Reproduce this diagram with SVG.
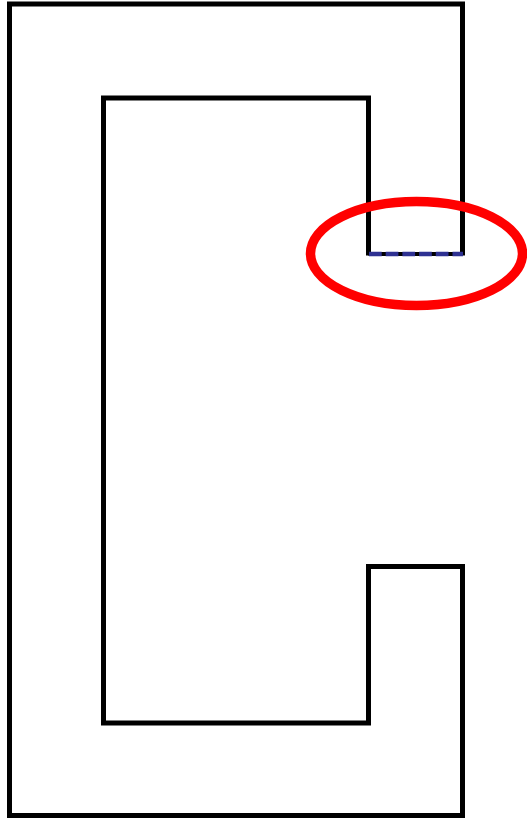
<svg xmlns="http://www.w3.org/2000/svg" width="527" height="818" viewBox="0 0 527 818">
<style>
.wall{fill:none;stroke:#000;stroke-width:5;stroke-linecap:square;stroke-linejoin:miter}
.gap{fill:none;stroke:#2e3192;stroke-width:4.5;stroke-dasharray:12.7 4}
.mark{fill:none;stroke:#ff0000;stroke-width:9.5}
</style>
<rect width="527" height="818" fill="#fff"/>
<g id="shape">
<path class="wall" d="M462.5,253 V4 H9.5 V815.5 H462.5 V566.5 H368.5 V723 H103.5 V98 H368.5 V253"/>
<line x1="368.5" y1="254" x2="462.5" y2="254" stroke="#000" stroke-width="4"/>
</g>
<g id="connectors">
<line class="gap" x1="369" y1="254" x2="463" y2="254"/>
</g>
<g id="highlight">
<ellipse class="mark" cx="416.5" cy="253.5" rx="106" ry="52"/>
</g>
</svg>
